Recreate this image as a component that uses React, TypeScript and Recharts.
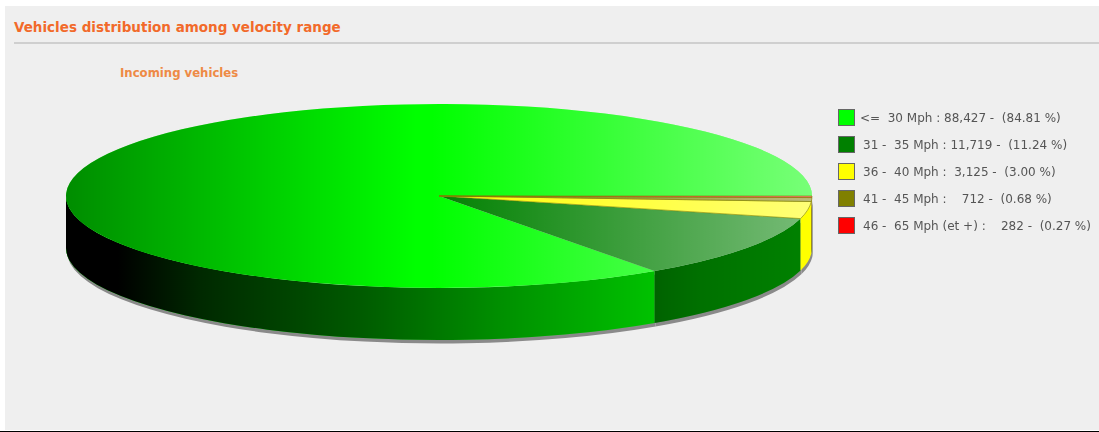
import { PieChart, Pie, Legend } from 'recharts';

const categories = ['<=  30 Mph', '31 -  35 Mph', '36 -  40 Mph', '41 -  45 Mph', '46 -  65 Mph (et +)'];
const vehicles = [88427, 11719, 3125, 712, 282];
const countLabels = ['88,427', '11,719', '3,125', '712', '282'];
const percentLabels = ['84.81 %', '11.24 %', '3.00 %', '0.68 %', '0.27 %'];
const colors = ['#00ff00', '#008000', '#ffff00', '#808000', '#ff0000'];

const data = categories.map((name, i) => ({ name, value: vehicles[i], fill: colors[i] }));

const TILT = 0.2466;
const DEPTH = 52;
const RAD = Math.PI / 180;

const point = (cx: number, cy: number, r: number, angle: number) =>
  `${cx + r * Math.cos(angle * RAD)} ${cy - r * TILT * Math.sin(angle * RAD)}`;

const topPath = (cx: number, cy: number, r: number, from: number, to: number) => {
  const large = to - from > 180 ? 1 : 0;
  return `M${cx} ${cy} L${point(cx, cy, r, from)} A${r} ${r * TILT} 0 ${large} 0 ${point(cx, cy, r, to)} Z`;
};

// only the front half of the rim can be seen
const wallPath = (cx: number, cy: number, r: number, from: number, to: number) => {
  const a = Math.max(from, 180);
  const b = Math.min(to, 360);
  if (b <= a) return '';
  const rx = `${r} ${r * TILT}`;
  return `M${point(cx, cy, r, a)} A${rx} 0 0 0 ${point(cx, cy, r, b)} L${point(cx, cy + DEPTH, r, b)} A${rx} 0 0 1 ${point(cx, cy + DEPTH, r, a)} Z`;
};

const TopSlice = (p: any) => {
  const d = topPath(p.cx, p.cy, p.outerRadius, p.startAngle, p.endAngle);
  // the thin slices have a brownish edge in the picture
  const thin = p.endAngle - p.startAngle < 15;
  return (
    <g>
      <path d={d} fill={p.fill} />
      <path d={d} fill="url(#topSheen)" />
      {thin && <path d={d} fill="none" stroke="#808000" strokeOpacity={0.6} strokeWidth={1} />}
    </g>
  );
};

const WallSlice = (p: any) => {
  const d = wallPath(p.cx, p.cy, p.outerRadius, p.startAngle, p.endAngle);
  return (
    <g>
      <path d={d} fill={p.fill} />
      <path d={d} fill="url(#wallShade)" />
    </g>
  );
};

const ShadowSlice = (p: any) => (
  <path
    d={wallPath(p.cx + 1, p.cy + 3.5, p.outerRadius, p.startAngle, p.endAngle)}
    fill="#8a8a8a"
  />
);

const LegendRows = () => (
  <div style={{ fontFamily: 'DejaVu Sans', fontSize: 12, color: '#555', whiteSpace: 'pre' }}>
    {categories.map((name, i) => (
      <div key={name} style={{ display: 'flex', alignItems: 'center', height: 27 }}>
        <span
          style={{
            width: 15,
            height: 15,
            background: colors[i],
            border: '1px solid #666',
            marginRight: i === 0 ? 5 : 8,
          }}
        />
        {`${name} : ${countLabels[i].padStart(6)} -  (${percentLabels[i]})`}
      </div>
    ))}
  </div>
);

export default function App() {
  const pieProps = {
    data,
    dataKey: 'value',
    nameKey: 'name',
    cx: 439,
    cy: 196,
    outerRadius: 373,
    startAngle: 0,
    endAngle: 360,
    paddingAngle: 0,
    stroke: 'none',
    isAnimationActive: false,
  };

  return (
    <div style={{ position: 'absolute', left: 0, top: 0, width: 1099, height: 432, background: '#fff', overflow: 'hidden' }}>
      <div style={{ position: 'absolute', left: 5, top: 6, width: 1094, height: 424, background: '#efefef' }} />
      <div style={{ position: 'absolute', left: 0, top: 431, width: 1099, height: 1, background: '#000' }} />
      <div style={{ position: 'absolute', left: 14, top: 19, fontFamily: 'DejaVu Sans', fontWeight: 700, fontSize: 13.5, color: '#f26a2a', whiteSpace: 'nowrap' }}>
        Vehicles distribution among velocity range
      </div>
      <div style={{ position: 'absolute', left: 14, top: 42, width: 1085, height: 2, background: '#cfcfcf' }} />
      <div style={{ position: 'absolute', left: 120, top: 66, fontFamily: 'DejaVu Sans', fontWeight: 700, fontSize: 11.7, color: '#ee8a45', whiteSpace: 'nowrap' }}>
        Incoming vehicles
      </div>
      <div style={{ position: 'absolute', left: 0, top: 0, filter: 'blur(0.4px)' }}>
        <PieChart width={1099} height={432} margin={{ top: 0, right: 0, bottom: 0, left: 0 }}>
          <defs>
            <linearGradient id="topSheen" gradientUnits="userSpaceOnUse" x1="66" y1="0" x2="812" y2="0">
              <stop offset="0" stopColor="#000" stopOpacity={0.45} />
              <stop offset="0.47" stopColor="#000" stopOpacity={0} />
              <stop offset="0.49" stopColor="#fff" stopOpacity={0} />
              <stop offset="1" stopColor="#fff" stopOpacity={0.47} />
            </linearGradient>
            <linearGradient id="wallShade" gradientUnits="userSpaceOnUse" x1="66" y1="0" x2="812" y2="0">
              <stop offset="0" stopColor="#000" stopOpacity={1} />
              <stop offset="0.07" stopColor="#000" stopOpacity={1} />
              <stop offset="0.18" stopColor="#000" stopOpacity={0.84} />
              <stop offset="0.39" stopColor="#000" stopOpacity={0.65} />
              <stop offset="0.58" stopColor="#000" stopOpacity={0.44} />
              <stop offset="0.78" stopColor="#000" stopOpacity={0.25} />
              <stop offset="0.85" stopColor="#000" stopOpacity={0.12} />
              <stop offset="0.98" stopColor="#000" stopOpacity={0} />
            </linearGradient>
          </defs>
          <Pie {...pieProps} legendType="none" shape={ShadowSlice} />
          <Pie {...pieProps} legendType="none" shape={WallSlice} />
          <Pie {...pieProps} shape={TopSlice} />
          <Legend
            layout="vertical"
            align="right"
            verticalAlign="top"
            wrapperStyle={{ left: 838, top: 104, width: 261 }}
            content={<LegendRows />}
          />
        </PieChart>
      </div>
    </div>
  );
}
